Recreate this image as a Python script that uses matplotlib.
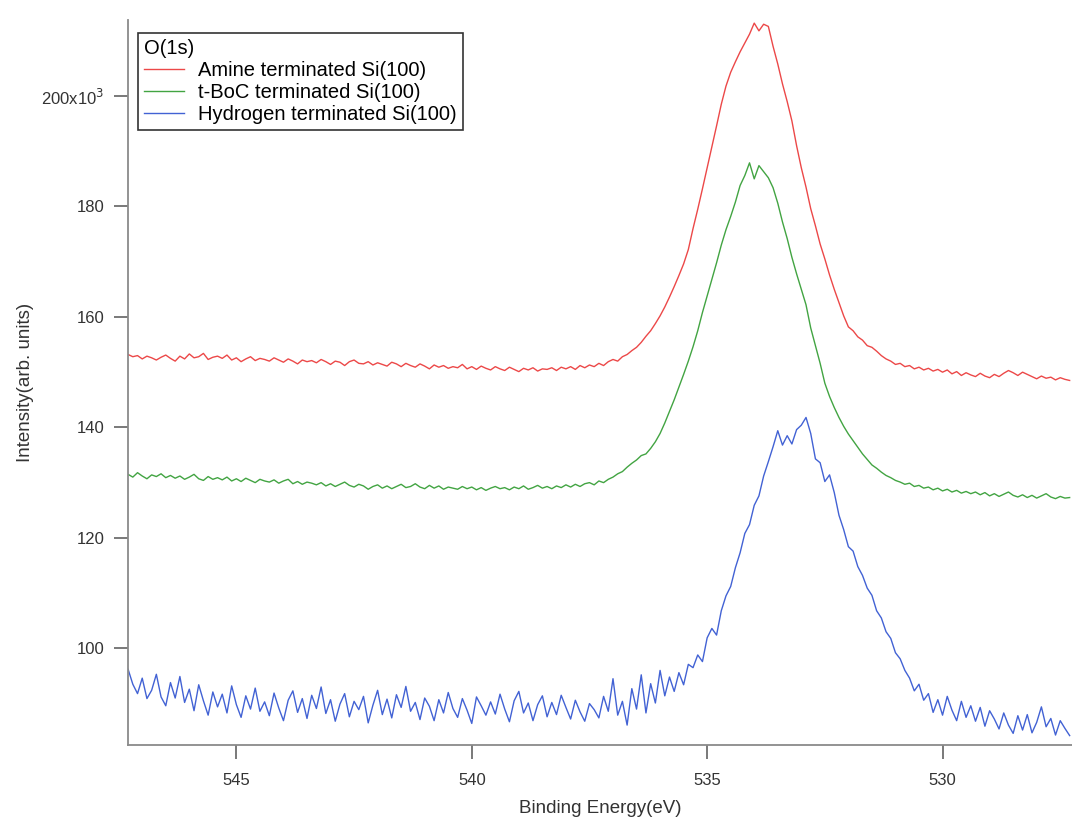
import numpy as np
from matplotlib import pyplot as plt

plt.rcParams["font.family"] = ["Liberation Sans", "DejaVu Sans"]

#---------------------------------
# Data (binding energy grid, 0.1 eV steps from 547.3 down to 527.3)
energy = np.round(np.arange(547.3, 527.25, -0.1), 1)

amine = [
    153.2, 152.8, 153.0, 152.4, 152.9, 152.6, 152.2, 152.7, 153.1, 152.5,
    152.0, 152.9, 152.4, 153.3, 152.6, 152.8, 153.4, 152.3, 152.7, 152.9,
    152.5, 153.1, 152.2, 152.6, 151.9, 152.4, 152.8, 152.1, 152.5, 152.3,
    152.0, 152.6, 152.2, 151.8, 152.4, 152.0, 151.5, 152.2, 151.9, 152.1,
    151.7, 152.3, 151.9, 151.4, 152.0, 151.8, 151.2, 151.9, 152.2, 151.6,
    151.5, 151.9, 151.3, 151.7, 151.4, 151.1, 151.8, 151.5, 151.0, 151.6,
    151.2, 150.9, 151.5, 151.1, 150.6, 151.3, 150.9, 151.2, 150.7, 151.0,
    150.8, 151.4, 150.6, 151.0, 150.5, 151.1, 150.7, 150.4, 151.0, 150.6,
    150.3, 150.9, 150.5, 150.1, 150.7, 150.4, 150.8, 150.2, 150.6, 150.5,
    150.8, 150.3, 150.9, 150.6, 151.0, 150.5, 151.2, 150.8, 151.3, 151.0,
    151.6, 151.2, 151.9, 152.3, 152.0, 152.8, 153.2, 153.9, 154.5, 155.4,
    156.5, 157.5, 158.8, 160.2, 161.8, 163.6, 165.5, 167.5, 169.6, 172.2,
    176.0, 179.5, 183.2, 187.0, 190.8, 194.6, 198.5, 201.8, 204.3, 206.2,
    208.0, 209.6, 211.2, 213.2, 211.8, 213.0, 212.6, 209.0, 205.8, 202.2,
    199.0, 195.5, 191.0, 187.0, 183.5, 179.6, 176.5, 173.2, 170.5, 167.6,
    165.0, 162.6, 160.2, 158.2, 157.5, 156.4, 155.8, 154.8, 154.5, 153.8,
    153.0, 152.4, 152.0, 151.4, 151.6, 151.0, 151.2, 150.6, 150.9, 150.4,
    150.7, 150.2, 150.5, 150.0, 150.4, 149.7, 150.1, 149.4, 149.9, 149.5,
    149.2, 149.8, 149.3, 149.0, 149.6, 149.2, 149.8, 150.3, 149.9, 149.4,
    150.0, 149.6, 149.2, 148.8, 149.3, 148.9, 149.1, 148.6, 149.0, 148.7,
    148.5,
]

tboc = [
    131.5, 131.0, 131.8, 131.2, 130.7, 131.4, 131.1, 131.6, 130.9, 131.3,
    130.8, 131.2, 130.6, 131.0, 131.5, 130.7, 130.4, 131.1, 130.6, 130.9,
    130.5, 131.0, 130.3, 130.7, 130.2, 130.8, 130.4, 130.0, 130.6, 130.3,
    130.1, 130.5, 129.9, 130.3, 130.6, 129.8, 130.2, 129.7, 130.1, 129.9,
    129.6, 130.0, 129.4, 129.8, 129.3, 129.7, 130.1, 129.5, 129.2, 129.7,
    129.4, 128.8, 129.3, 129.6, 129.0, 129.4, 128.9, 129.3, 129.7, 129.1,
    129.3, 129.8, 129.2, 128.9, 129.5, 129.0, 129.4, 128.8, 129.2, 129.0,
    128.8, 129.3, 128.9, 129.2, 128.7, 129.1, 128.6, 129.0, 129.3, 128.9,
    129.1, 128.7, 129.2, 128.9, 129.4, 128.8, 129.1, 129.5, 129.0, 129.3,
    128.9, 129.4, 129.1, 129.6, 129.2, 129.7, 129.3, 129.8, 130.0, 129.6,
    130.3, 130.0, 130.6, 131.0, 131.6, 132.0, 132.8, 133.5, 134.1, 134.9,
    135.2, 136.2, 137.4, 138.9, 140.8, 142.9, 145.0, 147.3, 149.6, 152.0,
    154.6, 157.5, 160.8, 163.8, 166.8, 169.8, 173.0, 175.8, 178.2, 180.8,
    183.8, 185.6, 187.9, 185.0, 187.4, 186.3, 185.2, 183.4, 180.6, 177.2,
    174.2, 170.8, 167.8, 165.0, 162.2, 158.0, 154.8, 151.6, 148.0, 145.6,
    143.6, 141.8, 140.2, 138.8, 137.6, 136.4, 135.2, 134.2, 133.2, 132.6,
    131.9, 131.3, 130.9, 130.4, 130.1, 129.7, 129.9, 129.3, 129.5, 129.0,
    129.2, 128.7, 129.0, 128.5, 128.8, 128.3, 128.6, 128.1, 128.4, 128.0,
    128.3, 127.8, 128.2, 127.6, 128.0, 127.5, 127.9, 128.3, 127.7, 127.4,
    127.8, 127.3, 127.7, 127.2, 127.6, 128.0, 127.4, 127.1, 127.5, 127.2,
    127.3,
]

hydrogen = [
    96.2, 93.5, 91.8, 94.6, 90.9, 92.4, 95.3, 91.2, 89.6, 93.8,
    91.0, 94.9, 90.2, 92.6, 88.7, 93.4, 90.5, 87.9, 92.1, 89.4,
    91.7, 88.3, 93.2, 89.8, 87.5, 91.4, 89.0, 92.8, 88.6, 90.3,
    87.8, 91.9, 89.2, 86.9, 90.6, 92.3, 88.4, 90.9, 87.3, 91.5,
    89.1, 93.0, 88.2, 90.7, 86.8, 89.9, 91.8, 87.6, 90.4, 88.9,
    91.3, 86.5, 89.7, 92.4, 88.0, 90.8, 87.4, 91.6, 89.3, 93.1,
    88.6, 90.2, 87.1, 91.0, 89.5, 86.9, 90.7, 88.3, 92.0, 89.1,
    87.5, 90.9, 88.8, 86.4, 91.2, 89.6, 87.9, 90.3, 88.1, 91.7,
    89.0, 86.7, 90.5, 92.2, 88.3, 90.1, 86.9, 89.8, 91.4, 87.6,
    90.2, 88.0, 91.5, 89.3, 87.2, 90.6, 88.5, 86.8, 90.0, 88.9,
    87.4, 91.3, 88.6, 94.5, 87.9, 90.4, 86.1, 92.7, 89.0, 95.2,
    88.3, 93.6, 90.1, 96.0, 91.4, 94.8, 92.2, 95.6, 93.4, 97.1,
    96.5, 98.8, 97.6, 101.9, 103.6, 102.4, 106.8, 109.5, 111.2, 114.6,
    117.3, 120.8, 122.4, 125.9, 127.6, 131.2, 133.8, 136.5, 139.4, 136.8,
    138.5, 137.0, 139.6, 140.4, 141.8, 138.9, 134.3, 133.6, 130.2, 131.4,
    128.2, 124.1, 121.5, 118.4, 117.6, 114.8, 113.2, 110.9, 109.6, 106.8,
    105.5, 103.0, 101.8, 99.2, 98.1, 96.0, 94.6, 92.3, 93.5, 90.6,
    91.8, 88.4, 90.7, 87.9, 91.3, 88.8, 86.9, 90.4, 87.5, 89.6,
    86.8, 89.3, 85.9, 88.7, 87.2, 85.4, 88.3, 86.1, 84.6, 87.8,
    85.2, 88.0, 84.7, 86.6, 89.4, 85.8, 87.3, 84.3, 86.9, 85.5,
    84.2,
]

labels = ["Amine terminated Si(100)", "t-BoC terminated Si(100)", "Hydrogen terminated Si(100)"]
colors = ["#ec4848", "#42a442", "#4262d4"]

y_ticks = [100, 120, 140, 160, 180, 200]
y_tick_labels = ["100", "120", "140", "160", "180", "200x10$^3$"]
x_ticks = [545, 540, 535, 530]

#-------------------------------
# Plotting
fig = plt.figure(figsize=(10.72, 8.25), dpi=100)
ax = fig.add_axes([0.1195, 0.097, 0.8805, 0.879])

for series, label, color in zip([amine, tboc, hydrogen], labels, colors):
    ax.plot(energy, series, color=color, lw=1.0, label=label)

ax.set_xlim(547.3, 527.25)
ax.set_ylim(82.5, 213.8)

ax.set_xticks(x_ticks)
ax.set_yticks(y_ticks)
ax.set_yticklabels(y_tick_labels)

#---------------------------------
# Formatting (Igor-like axes)
for side in ["top", "right"]:
    ax.spines[side].set_visible(False)
for side in ["left", "bottom"]:
    ax.spines[side].set_color("#8a8a8a")
    ax.spines[side].set_linewidth(1.3)

ax.tick_params(axis="both", direction="out", length=10, width=1.1,
               color="#555555", labelsize=12, labelcolor="#333333")
ax.tick_params(axis="x", pad=10)
ax.tick_params(axis="y", pad=7)

ax.set_xlabel("Binding Energy(eV)", fontsize=13.5, color="#333333", labelpad=9)
ax.set_ylabel("Intensity(arb. units)", fontsize=13.5, color="#333333", labelpad=5)

leg = ax.legend(title="O(1s)", loc="upper left", bbox_to_anchor=(0.01, 0.982),
                borderaxespad=0, fontsize=14.5, title_fontsize=14.5, alignment="left",
                fancybox=False, framealpha=1, edgecolor="#333333",
                handlelength=2.0, handletextpad=0.7, labelspacing=0.15,
                borderpad=0.3)
leg.get_frame().set_linewidth(1.2)

fig.savefig("out.png", dpi=100)
